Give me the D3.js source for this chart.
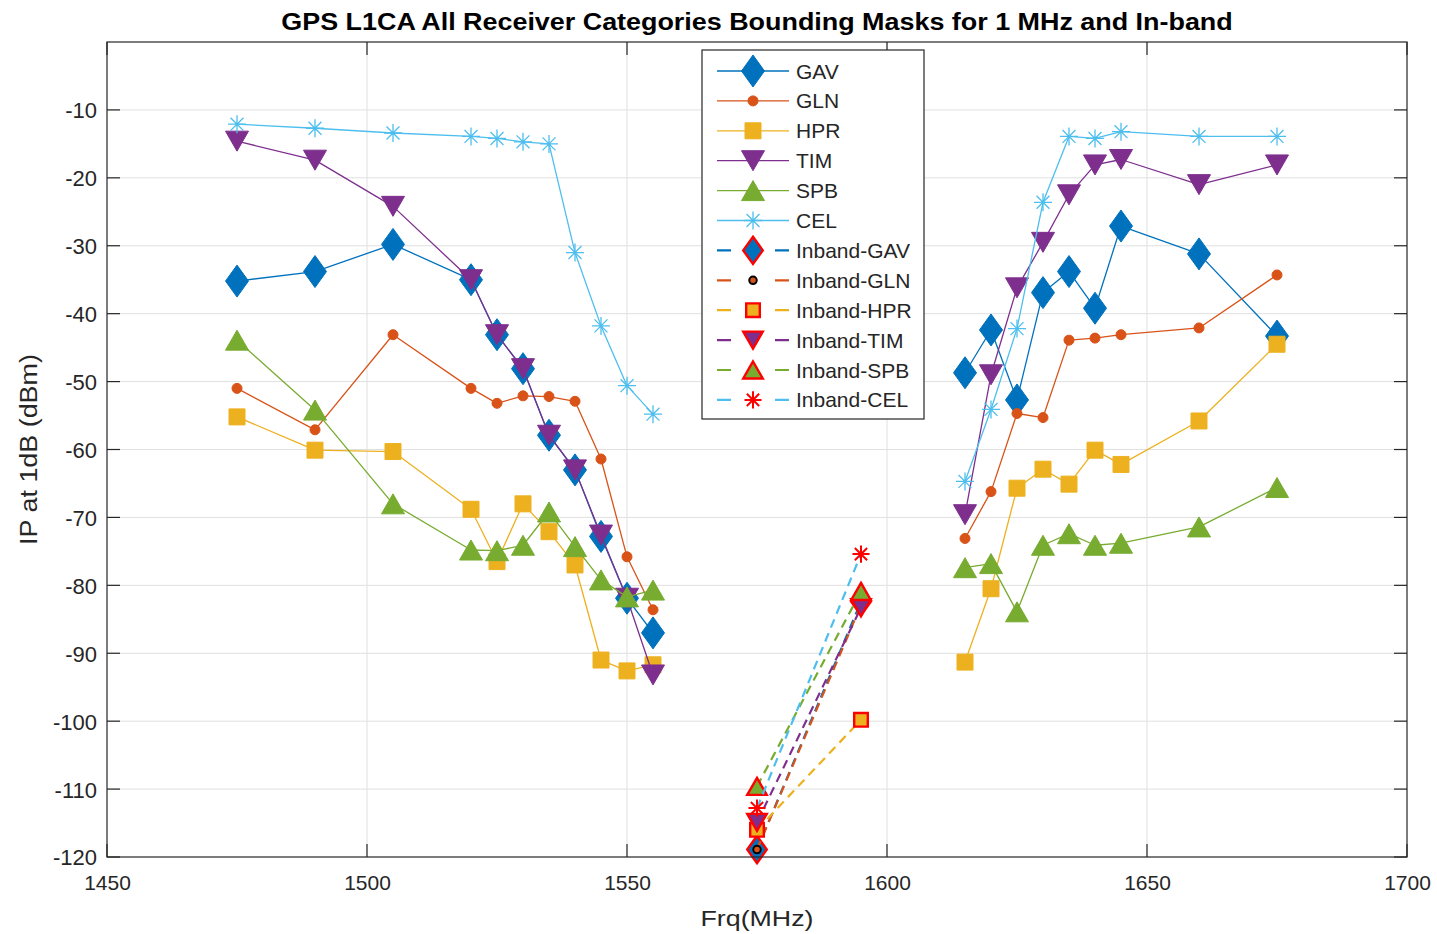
<!DOCTYPE html>
<html>
<head>
<meta charset="utf-8">
<script src="https://cdn.jsdelivr.net/npm/d3@7"></script>
<style>
  body { margin: 0; background: #fff; }
  svg { display: block; }
  text { font-family: "Liberation Sans", Arial, Helvetica, sans-serif; fill: #262626; }
</style>
</head>
<body>
<svg id="chart" width="1437" height="934"></svg>
<script>
// Frequencies (MHz) of the out-of-band mask points, below and above L1
const freqLow = [1475, 1490, 1505, 1520, 1525, 1530, 1535, 1540, 1545, 1550, 1555];
const freqHigh = [1615, 1620, 1625, 1630, 1635, 1640, 1645, 1660, 1675];
// In-band end points
const freqInband = [1575, 1595];

// IP at 1 dB (dBm), per receiver category
const gavLow = [-35.2, -33.8, -29.8, -35.0, -43.1, -48.1, -57.9, -63.0, -72.8, -81.9, -87.0];
const gavHigh = [-48.7, -42.4, -52.7, -36.9, -33.8, -39.2, -27.1, -31.2, -43.3];
const glnLow = [-51.0, -57.1, -43.1, -51.0, -53.2, -52.1, -52.2, -52.9, -61.4, -75.8, -83.6];
const glnHigh = [-73.1, -66.2, -54.7, -55.3, -43.9, -43.6, -43.1, -42.1, -34.3];
const hprLow = [-55.2, -60.1, -60.3, -68.8, -76.5, -68.0, -72.1, -77.0, -91.0, -92.6, -91.7];
const hprHigh = [-91.3, -80.5, -65.7, -62.9, -65.1, -60.1, -62.2, -55.8, -44.5];
const timLow = [-14.6, -17.4, -24.2, -35.0, -43.1, -48.1, -57.9, -63.0, -72.6, -81.9, -93.2];
const timHigh = [-69.6, -49.0, -36.2, -29.5, -22.5, -18.1, -17.3, -21.0, -18.1];
const spbLow = [-43.9, -54.2, -68.0, -74.8, -74.9, -74.1, -69.2, -74.3, -79.2, -81.7, -80.7];
const spbHigh = [-77.4, -76.8, -83.9, -74.1, -72.4, -74.1, -73.8, -71.4, -65.6];
const celLow = [-12.1, -12.7, -13.4, -13.9, -14.2, -14.7, -15.0, -31.0, -41.8, -50.6, -54.8];
const celHigh = [-64.7, -54.1, -42.2, -23.6, -13.9, -14.2, -13.2, -13.9, -13.9];

// In-band masks (1575 and 1595 MHz)
const gavInband = [-118.9, -82.4];
const glnInband = [-118.9, -82.9];
const hprInband = [-116.0, -99.8];
const timInband = [-114.9, -83.3];
const spbInband = [-109.6, -80.9];
const celInband = [-112.8, -75.4];

const categories = ["GAV", "GLN", "HPR", "TIM", "SPB", "CEL"];
const inbandLabels = ["Inband-GAV", "Inband-GLN", "Inband-HPR", "Inband-TIM", "Inband-SPB", "Inband-CEL"];
const xTicks = [1450, 1500, 1550, 1600, 1650, 1700];
const yTicks = [-120, -110, -100, -90, -80, -70, -60, -50, -40, -30, -20, -10];

const colors = ["#0072BD", "#D95319", "#EDB120", "#7E2F8E", "#77AC30", "#4DBEEE"];
const markerTypes = ["diamond", "dot", "square", "triDown", "triUp", "asterisk"];

const lowSets = [gavLow, glnLow, hprLow, timLow, spbLow, celLow];
const highSets = [gavHigh, glnHigh, hprHigh, timHigh, spbHigh, celHigh];
const inbandSets = [gavInband, glnInband, hprInband, timInband, spbInband, celInband];

// ---- layout ----
const plot = { left: 107, top: 42, right: 1407, bottom: 857 };
const svg = d3.select("#chart");

const x = d3.scaleLinear().domain([1450, 1700]).range([plot.left, plot.right]);
const y = d3.scaleLinear().domain([-120, 0]).range([plot.bottom, plot.top]);

const axisColor = "#262626";
const gridColor = "#e0e0e0";

// grid
const grid = svg.append("g");
grid.selectAll("line.gx").data(xTicks.slice(1, -1)).join("line")
  .attr("x1", d => x(d)).attr("x2", d => x(d))
  .attr("y1", plot.top).attr("y2", plot.bottom)
  .attr("stroke", gridColor).attr("stroke-width", 1);
grid.selectAll("line.gy").data(yTicks.slice(1)).join("line")
  .attr("x1", plot.left).attr("x2", plot.right)
  .attr("y1", d => y(d)).attr("y2", d => y(d))
  .attr("stroke", gridColor).attr("stroke-width", 1);

// ---- marker shapes ----
function markerPath(type, s) {
  switch (type) {
    case "diamond": { const w = 11.5 * s, h = 16 * s; return `M0,${-h}L${w},0L0,${h}L${-w},0Z`; }
    case "square": { const a = 8 * s; return `M${-a},${-a}H${a}V${a}H${-a}Z`; }
    case "triDown": { const w = 11.5 * s, h = 10 * s; return `M${-w},${-h}H${w}L0,${h}Z`; }
    case "triUp": { const w = 11.5 * s, h = 10 * s; return `M0,${-h}L${w},${h}H${-w}Z`; }
    case "asterisk": {
      const r = 9 * s, d = r * 0.72;
      return `M${-r},0H${r}M0,${-r}V${r}M${-d},${-d}L${d},${d}M${-d},${d}L${d},${-d}`;
    }
    case "dot": { const r = 5 * s; return `M${-r},0A${r},${r} 0 1,0 ${r},0A${r},${r} 0 1,0 ${-r},0Z`; }
  }
}

function styleMarker(sel, i, inband) {
  const type = markerTypes[i];
  if (!inband) {
    if (type === "asterisk") {
      sel.attr("d", markerPath(type, 1)).attr("fill", "none").attr("stroke", colors[i]).attr("stroke-width", 1.3);
    } else {
      sel.attr("d", markerPath(type, 1)).attr("fill", colors[i]).attr("stroke", colors[i]).attr("stroke-width", 1);
    }
  } else {
    if (type === "asterisk") {
      sel.attr("d", markerPath(type, 0.95)).attr("fill", "none").attr("stroke", "#ff0000").attr("stroke-width", 2);
    } else if (type === "dot") {
      sel.attr("d", markerPath(type, 0.75)).attr("fill", colors[i]).attr("stroke", "#000").attr("stroke-width", 2);
    } else {
      sel.attr("d", markerPath(type, 0.85)).attr("fill", colors[i]).attr("stroke", "#ff0000").attr("stroke-width", 2.4);
    }
  }
}

const line = d3.line().defined(d => d.v !== null).x(d => x(d.f)).y(d => y(d.v));

const plotArea = svg.append("g");

// out-of-band masks: below and above the band drawn as one series with a gap
categories.forEach((name, i) => {
  const pts = freqLow.map((f, k) => ({ f, v: lowSets[i][k] }))
    .concat([{ f: null, v: null }])
    .concat(freqHigh.map((f, k) => ({ f, v: highSets[i][k] })));
  const g = plotArea.append("g");
  g.append("path").attr("d", line(pts)).attr("fill", "none")
    .attr("stroke", colors[i]).attr("stroke-width", 1.3).attr("stroke-linejoin", "round");
  g.selectAll("path.m").data(pts.filter(p => p.v !== null)).join("path")
    .attr("class", "m")
    .attr("transform", p => `translate(${x(p.f)},${y(p.v)})`)
    .call(sel => styleMarker(sel, i, false));
});

// in-band masks
inbandLabels.forEach((name, i) => {
  const pts = freqInband.map((f, k) => ({ f, v: inbandSets[i][k] }));
  const g = plotArea.append("g");
  g.append("path").attr("d", line(pts)).attr("fill", "none")
    .attr("stroke", colors[i]).attr("stroke-width", 2.2).attr("stroke-dasharray", "9,6");
  g.selectAll("path.m").data(pts).join("path")
    .attr("class", "m")
    .attr("transform", p => `translate(${x(p.f)},${y(p.v)})`)
    .call(sel => styleMarker(sel, i, true));
});

// ---- axes box and ticks ----
const axes = svg.append("g");
axes.append("rect").attr("x", plot.left).attr("y", plot.top)
  .attr("width", plot.right - plot.left).attr("height", plot.bottom - plot.top)
  .attr("fill", "none").attr("stroke", axisColor).attr("stroke-width", 1.2);

const tickLen = 13;
const fmt = d => String(d);
const xAxisB = d3.axisBottom(x).tickValues(xTicks).tickSize(0).tickPadding(0).tickFormat(fmt);
const gx = axes.append("g").attr("transform", `translate(0,${plot.bottom})`).call(xAxisB);
gx.select(".domain").remove();
gx.selectAll(".tick text").attr("dy", 33).attr("font-size", 21).style("fill", axisColor);

const yAxisL = d3.axisLeft(y).tickValues(yTicks).tickSize(0).tickPadding(10).tickFormat(fmt);
const gy = axes.append("g").attr("transform", `translate(${plot.left},0)`).call(yAxisL);
gy.select(".domain").remove();
gy.selectAll(".tick text").attr("font-size", 22).attr("dy", "0.36em").style("fill", axisColor);

// inward tick marks on all four sides
const tickG = axes.append("g").attr("stroke", axisColor).attr("stroke-width", 1.2);
xTicks.forEach(t => {
  tickG.append("line").attr("x1", x(t)).attr("x2", x(t)).attr("y1", plot.bottom).attr("y2", plot.bottom - tickLen);
  tickG.append("line").attr("x1", x(t)).attr("x2", x(t)).attr("y1", plot.top).attr("y2", plot.top + tickLen);
});
yTicks.forEach(t => {
  tickG.append("line").attr("x1", plot.left).attr("x2", plot.left + tickLen).attr("y1", y(t)).attr("y2", y(t));
  tickG.append("line").attr("x1", plot.right).attr("x2", plot.right - tickLen).attr("y1", y(t)).attr("y2", y(t));
});

// ---- titles (slightly widened lettering) ----
svg.append("text")
  .attr("transform", `translate(${(plot.left + plot.right) / 2},30) scale(1.17,1)`)
  .attr("text-anchor", "middle").attr("font-size", 23).attr("font-weight", "bold")
  .style("fill", "#000")
  .text("GPS L1CA All Receiver Categories Bounding Masks for 1 MHz and In-band");

svg.append("text")
  .attr("transform", `translate(${(plot.left + plot.right) / 2},926) scale(1.19,1)`)
  .attr("text-anchor", "middle").attr("font-size", 22.5)
  .text("Frq(MHz)");

svg.append("text")
  .attr("transform", `translate(37,${(plot.top + plot.bottom) / 2}) rotate(-90) scale(1.17,1)`)
  .attr("text-anchor", "middle").attr("font-size", 23)
  .text("IP at 1dB (dBm)");

// ---- legend ----
const legend = { left: 702, top: 50, width: 222, height: 369, row: 29.9, first: 71 };
const lg = svg.append("g");
lg.append("rect").attr("x", legend.left).attr("y", legend.top)
  .attr("width", legend.width).attr("height", legend.height)
  .attr("fill", "#fff").attr("stroke", axisColor).attr("stroke-width", 1.2);

const legendEntries = categories.map((n, i) => ({ name: n, i, inband: false }))
  .concat(inbandLabels.map((n, i) => ({ name: n, i, inband: true })));

legendEntries.forEach((e, r) => {
  const cy = legend.first + r * legend.row;
  const row = lg.append("g");
  row.append("line").attr("x1", 717).attr("x2", 789).attr("y1", cy).attr("y2", cy)
    .attr("stroke", colors[e.i])
    .attr("stroke-width", e.inband ? 2.2 : 1.3)
    .attr("stroke-dasharray", e.inband ? "14,44" : null);
  row.append("path").attr("transform", `translate(753,${cy})`)
    .call(sel => styleMarker(sel, e.i, e.inband));
  row.append("text").attr("x", 796).attr("y", cy).attr("dy", "0.36em")
    .attr("font-size", 21).text(e.name);
});
</script>
</body>
</html>
